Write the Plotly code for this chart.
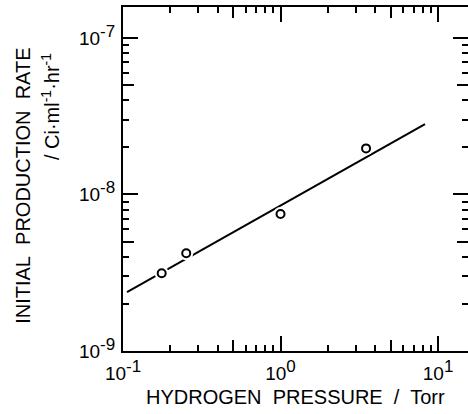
import plotly.graph_objects as go

# ---- data ----
pressure = [0.176, 0.252, 1.0, 3.49]          # Torr
rate = [3.14e-9, 4.21e-9, 7.5e-9, 1.97e-8]    # Ci/ml/hr
fit_pressure = [0.106, 8.26]
fit_rate = [2.38e-9, 2.82e-8]

SUP = "<sup><span style=\"font-size:17px\">{}</span></sup>"
x_major = [0.1, 1, 10]
x_labels = ["10" + SUP.format("-1"), "10" + SUP.format("0"), "10" + SUP.format("1")]
y_major = [1e-9, 1e-8, 1e-7]
y_labels = ["10" + SUP.format("-9"), "10" + SUP.format("-8"), "10" + SUP.format("-7")]

x_exps = [-1, 0, 1]
y_exps = [-9, -8, -7]
x_minor = [m * 10 ** e for e in x_exps for m in (2, 3, 4, 6, 7, 8, 9)]
x_mid = [5 * 10 ** e for e in x_exps]
y_minor = [m * 10.0 ** e for e in y_exps for m in (2, 3, 4, 6, 7, 8, 9)]
y_mid = [5 * 10.0 ** e for e in y_exps]

x_range = [-1, 1.19]
y_range = [-9, -6.802]

FONT = "Liberation Sans, Arial, sans-serif"

fig = go.Figure()
fig.add_trace(go.Scatter(x=fit_pressure, y=fit_rate, mode="lines",
                         line=dict(color="black", width=2), hoverinfo="skip"))
fig.add_trace(go.Scatter(x=pressure, y=rate, mode="markers",
                         marker=dict(symbol="circle", size=14, color="white",
                                     line=dict(width=0)), hoverinfo="skip"))
fig.add_trace(go.Scatter(x=pressure, y=rate, mode="markers",
                         marker=dict(symbol="circle-open", size=8, color="black",
                                     line=dict(width=2, color="black"))))
# empty traces so that every overlay axis is registered and drawn
for xa_id, ya_id in [("x2", "y"), ("x3", "y"), ("x4", "y"),
                     ("x", "y2"), ("x", "y3"), ("x", "y4")]:
    fig.add_trace(go.Scatter(x=[None], y=[None], xaxis=xa_id, yaxis=ya_id,
                             mode="markers", hoverinfo="skip"))


def major_axis(rng, vals, texts, minors, side, anchor, showline, labels, overlay=None):
    d = dict(type="log", range=rng, side=side, anchor=anchor,
             tickmode="array", tickvals=vals, ticktext=texts,
             ticks="inside", ticklen=15, tickwidth=2, tickcolor="black",
             showline=showline, linewidth=2, linecolor="black",
             showgrid=False, zeroline=False, showticklabels=labels,
             tickfont=dict(family=FONT, size=19, color="black"),
             minor=dict(ticks="inside", ticklen=6, tickwidth=1.6, tickcolor="black",
                        tickmode="array", tickvals=minors, showgrid=False))
    if overlay:
        d["overlaying"] = overlay
    return d


def mid_axis(rng, vals, side, anchor, overlay):
    return dict(type="log", range=rng, side=side, anchor=anchor, overlaying=overlay,
                tickmode="array", tickvals=vals, ticks="inside", ticklen=11,
                tickwidth=1.8, tickcolor="black", showline=False, showgrid=False,
                zeroline=False, showticklabels=False)


xa = major_axis(x_range, x_major, x_labels, x_minor, "bottom", "y", True, True)
xa["mirror"] = True
xa["ticklabelstandoff"] = 4
xa2 = major_axis(x_range, x_major, x_labels, x_minor, "top", "y", True, False, "x")
ya = major_axis(y_range, y_major, y_labels, y_minor, "left", "x", True, True)
ya["ticklabelstandoff"] = 2
ya2 = major_axis(y_range, y_major, y_labels, y_minor, "right", "x", False, False, "y")

fig.update_layout(
    width=468, height=414,
    margin=dict(l=123, r=0, t=7, b=63),
    paper_bgcolor="white", plot_bgcolor="white",
    showlegend=False,
    font=dict(family=FONT, color="black"),
    xaxis=xa, xaxis2=xa2,
    xaxis3=mid_axis(x_range, x_mid, "bottom", "y", "x"),
    xaxis4=mid_axis(x_range, x_mid, "top", "y", "x"),
    yaxis=ya, yaxis2=ya2,
    yaxis3=mid_axis(y_range, y_mid, "left", "x", "y"),
    yaxis4=mid_axis(y_range, y_mid, "right", "x", "y"),
    annotations=[
        dict(text="HYDROGEN\u00a0 PRESSURE\u00a0 /\u00a0 Torr", xref="paper", yref="paper",
             x=0.5, y=-0.134, xanchor="center", yanchor="middle", showarrow=False,
             font=dict(family=FONT, size=20, color="black")),
        dict(text="INITIAL\u00a0 PRODUCTION\u00a0 RATE", xref="paper", yref="paper",
             x=-0.290, y=0.480, xanchor="center", yanchor="middle", showarrow=False,
             textangle=-90, font=dict(family=FONT, size=20, color="black")),
        dict(text="/ Ci\u00b7ml<sup>-1</sup>\u00b7hr<sup>-1</sup>", xref="paper", yref="paper",
             x=-0.2116, y=0.712, xanchor="center", yanchor="middle", showarrow=False,
             textangle=-90, font=dict(family=FONT, size=20, color="black")),
    ],
)

fig.write_html("out.html")
